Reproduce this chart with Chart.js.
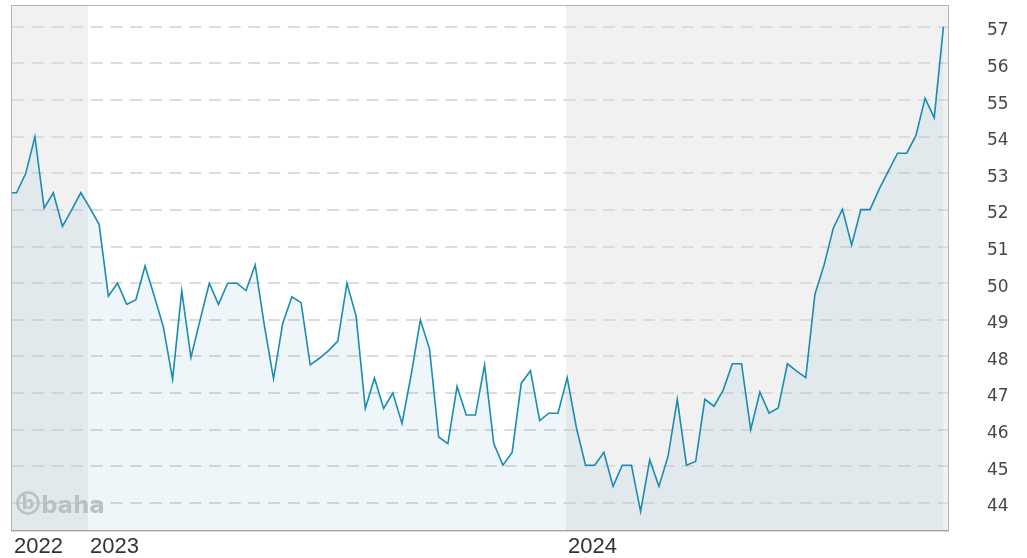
<!DOCTYPE html>
<html>
<head>
<meta charset="utf-8">
<title>Kursverlauf</title>
<script src="https://cdn.jsdelivr.net/npm/chart.js@4.4.1/dist/chart.umd.min.js"></script>
<style>
  html, body { margin: 0; padding: 0; background: #fff; }
  #wrap { position: relative; width: 1027px; height: 558px; }
</style>
</head>
<body>
<div id="wrap"><canvas id="chart"></canvas></div>

<script>
  // ─── Data ─────────────────────────────────────────────────────────────────
  // x is the week number counted from the first (partly hidden) week.

  /** Year labels on the x axis and the week position where each year begins. */
  const yearLabels = ['2022', '2023', '2024'];
  const yearStarts = [0.5, 8.78, 60.87];

  /** Visible week range of the plot. */
  const weekRange = [0.5, 102.5];

  /** Price axis ticks and visible price range. */
  const priceTicks = [44, 45, 46, 47, 48, 49, 50, 51, 52, 53, 54, 55, 56, 57];
  const priceRange = [43.26, 57.57];

  /** Weekly closing prices. */
  const weeklyCloses = [
    52.47, 52.47, 53.00, 54.00, 52.05, 52.47, 51.55, 52.00, 52.47, 52.05,
    51.60, 49.65, 50.00, 49.42, 49.55, 50.47, 49.65, 48.80, 47.38, 49.79,
    47.97, 49.00, 50.00, 49.42, 50.00, 50.00, 49.80, 50.50, 48.85, 47.39,
    48.90, 49.63, 49.47, 47.77, 47.95, 48.16, 48.42, 50.00, 49.10, 46.58,
    47.41, 46.58, 47.00, 46.17, 47.50, 49.00, 48.20, 45.80, 45.62, 47.18,
    46.40, 46.40, 47.77, 45.62, 45.03, 45.38, 47.27, 47.61, 46.25, 46.45,
    46.45, 47.42, 46.06, 45.03, 45.03, 45.38, 44.45, 45.03, 45.03, 43.77,
    45.18, 44.45, 45.28, 46.83, 45.03, 45.13, 46.83, 46.64, 47.08, 47.80,
    47.80, 46.00, 47.03, 46.45, 46.59, 47.80, 47.60, 47.42, 49.70, 50.50,
    51.50, 52.02, 51.04, 52.01, 52.01, 52.57, 53.06, 53.55, 53.55, 54.03,
    55.05, 54.52, 57.00
  ];
</script>

<script>
(function () {
  'use strict';

  // ─── Constants ────────────────────────────────────────────────────────────

  const LINE_COLOR = '#1b8cb1';
  const FILL_COLOR = 'rgba(25, 135, 175, 0.075)';
  const SHADED_BAND = '#f1f1f1';
  const GRID_COLOR = '#dcdcdc';
  const FRAME_COLOR = '#b4b4b4';
  const LOGO_COLOR = '#c6c6c6';

  // ─── Plugins ──────────────────────────────────────────────────────────────

  /**
   * Alternating year bands behind the grid: shaded, white, shaded.
   */
  const yearBands = {
    id: 'yearBands',
    beforeDraw: function (chart) {
      const ctx = chart.ctx;
      const area = chart.chartArea;
      const x = chart.scales.x;
      ctx.save();
      ctx.fillStyle = '#ffffff';
      ctx.fillRect(area.left, area.top, area.right - area.left, area.bottom - area.top);
      for (let i = 0; i < yearStarts.length; i++) {
        if (i % 2 === 1) continue;
        const from = x.getPixelForValue(yearStarts[i]);
        const to = x.getPixelForValue(i + 1 < yearStarts.length ? yearStarts[i + 1] : weekRange[1]);
        ctx.fillStyle = SHADED_BAND;
        ctx.fillRect(from, area.top, to - from, area.bottom - area.top);
      }
      ctx.restore();
    },
  };

  /**
   * Faint "baha" watermark in the lower left corner of the plot.
   */
  const watermark = {
    id: 'watermark',
    beforeDatasetsDraw: function (chart) {
      const ctx = chart.ctx;
      const area = chart.chartArea;
      const cx = area.left + 16;
      const cy = area.bottom - 27;
      ctx.save();
      ctx.strokeStyle = LOGO_COLOR;
      ctx.lineWidth = 2.5;
      ctx.beginPath();
      ctx.arc(cx, cy, 10.5, 0, Math.PI * 2);
      ctx.stroke();
      ctx.fillStyle = LOGO_COLOR;
      ctx.font = 'bold 18px "DejaVu Sans", sans-serif';
      ctx.textAlign = 'center';
      ctx.textBaseline = 'middle';
      ctx.fillText('b', cx, cy + 1);
      ctx.font = 'bold 23px "DejaVu Sans", sans-serif';
      ctx.textAlign = 'left';
      ctx.textBaseline = 'alphabetic';
      ctx.fillText('baha', cx + 13, cy + 10);
      ctx.restore();
    },
  };

  /**
   * Thin frame round the plot, with a heavier bottom edge.
   */
  const plotFrame = {
    id: 'plotFrame',
    afterDatasetsDraw: function (chart) {
      const ctx = chart.ctx;
      const a = chart.chartArea;
      ctx.save();
      ctx.lineWidth = 1;
      ctx.strokeStyle = FRAME_COLOR;
      ctx.strokeRect(a.left - 0.5, a.top - 0.5, a.right - a.left + 1, a.bottom - a.top + 1);
      ctx.strokeStyle = '#a2a2a2';
      ctx.beginPath();
      ctx.moveTo(a.left - 1, a.bottom + 0.5);
      ctx.lineTo(a.right + 1, a.bottom + 0.5);
      ctx.stroke();
      ctx.strokeStyle = '#dcdcdc';
      ctx.beginPath();
      ctx.moveTo(a.left - 1, a.bottom + 1.5);
      ctx.lineTo(a.right + 1, a.bottom + 1.5);
      ctx.stroke();
      ctx.restore();
    },
  };

  // ─── Chart ────────────────────────────────────────────────────────────────

  const points = weeklyCloses.map(function (v, i) { return { x: i, y: v }; });

  new Chart(document.getElementById('chart'), {
    type: 'line',
    data: {
      datasets: [{
        data: points,
        borderColor: LINE_COLOR,
        backgroundColor: FILL_COLOR,
        borderWidth: 1.6,
        pointRadius: 0,
        tension: 0,
        fill: 'start',
        clip: 0,
      }],
    },
    options: {
      responsive: true,
      maintainAspectRatio: false,
      animation: false,
      events: [],
      layout: { padding: { left: 12, top: 6, right: 0, bottom: 0 } },
      plugins: {
        legend: { display: false },
        tooltip: { enabled: false },
      },
      scales: {
        x: {
          type: 'linear',
          min: weekRange[0],
          max: weekRange[1],
          afterBuildTicks: function (scale) {
            scale.ticks = yearStarts.map(function (v) { return { value: v }; });
          },
          afterFit: function (scale) {
            scale.height = 28;
            scale.paddingLeft = 0;
            scale.paddingRight = 0;
          },
          grid: { display: false, drawTicks: false },
          border: { display: false },
          ticks: {
            autoSkip: false,
            maxRotation: 0,
            align: 'start',
            labelOffset: 2,
            padding: 4,
            color: '#333333',
            font: { family: '"Liberation Sans", Arial, sans-serif', size: 22 },
            callback: function (value, index) { return yearLabels[index]; },
          },
        },
        y: {
          position: 'right',
          min: priceRange[0],
          max: priceRange[1],
          afterBuildTicks: function (scale) {
            scale.ticks = priceTicks.map(function (v) { return { value: v }; });
          },
          afterFit: function (scale) {
            scale.width = 79;
            scale.paddingTop = 0;
            scale.paddingBottom = 0;
          },
          grid: { color: GRID_COLOR, lineWidth: 2, drawTicks: false },
          border: { display: false, dash: [12, 7.7] },
          ticks: {
            padding: 39,
            labelOffset: 4,
            color: '#474747',
            font: { family: '"DejaVu Sans", Verdana, sans-serif', size: 17 },
            callback: function (value) { return String(value); },
          },
        },
      },
    },
    plugins: [yearBands, watermark, plotFrame],
  });

}());
</script>
</body>
</html>
